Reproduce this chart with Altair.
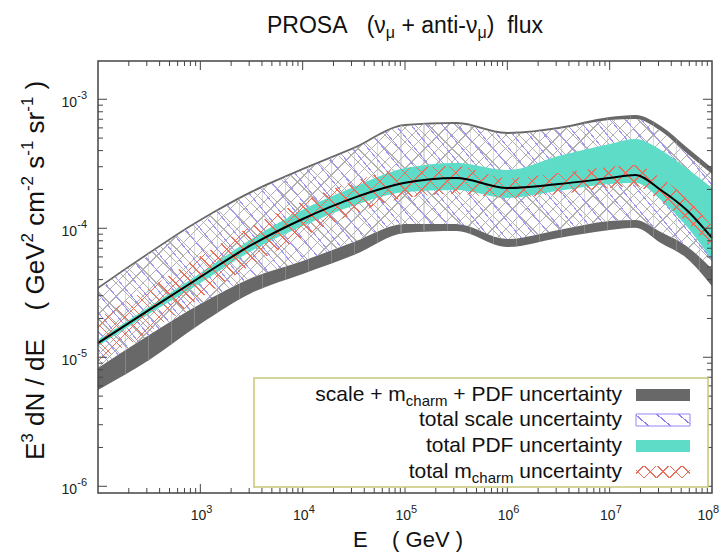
import math
import altair as alt
import pandas as pd

FONT = "Liberation Sans"

# ---------------- data ----------------
E = [1e2, 3.16e2, 1e3, 3.16e3, 1e4, 3.16e4, 1e5, 3.16e5, 1e6, 3.16e6, 1e7, 1.78e7, 3.16e7, 5.62e7, 1e8]
central = [1.29e-5, 2.33e-5, 4.19e-5, 7.42e-5, 1.18e-4, 1.72e-4, 2.25e-4, 2.45e-4, 2.05e-4, 2.20e-4, 2.45e-4, 2.59e-4, 1.98e-4, 1.39e-4, 8.41e-5]
total_hi = [3.51e-5, 6.55e-5, 1.18e-4, 1.95e-4, 2.93e-4, 4.27e-4, 6.43e-4, 6.67e-4, 5.58e-4, 6.10e-4, 7.29e-4, 7.56e-4, 6.21e-4, 4.27e-4, 2.93e-4]
total_lo = [5.58e-6, 9.53e-6, 1.81e-5, 3.15e-5, 4.42e-5, 6.21e-5, 9.20e-5, 9.53e-5, 7.16e-5, 8.41e-5, 9.70e-5, 1.01e-4, 7.69e-5, 5.89e-5, 3.57e-5]
scale_hi = [3.38e-5, 6.32e-5, 1.14e-4, 1.88e-4, 2.83e-4, 4.12e-4, 6.21e-4, 6.43e-4, 5.38e-4, 5.89e-4, 6.91e-4, 7.04e-4, 5.68e-4, 3.84e-4, 2.64e-4]
scale_lo = [8.26e-6, 1.49e-5, 2.59e-5, 4.12e-5, 5.58e-5, 7.83e-5, 1.08e-4, 1.08e-4, 8.26e-5, 9.70e-5, 1.14e-4, 1.16e-4, 9.36e-5, 7.29e-5, 4.84e-5]
pdf_hi = [1.36e-5, 2.46e-5, 4.50e-5, 8.26e-5, 1.39e-4, 2.09e-4, 2.93e-4, 3.21e-4, 2.83e-4, 3.64e-4, 4.50e-4, 4.92e-4, 4.05e-4, 2.93e-4, 2.05e-4]
pdf_lo = [1.22e-5, 2.17e-5, 3.77e-5, 6.67e-5, 1.04e-4, 1.50e-4, 1.91e-4, 1.98e-4, 1.72e-4, 1.95e-4, 2.20e-4, 2.25e-4, 1.66e-4, 1.04e-4, 5.68e-5]
charm_hi = [2.02e-5, 3.44e-5, 6.10e-5, 1.04e-4, 1.62e-4, 2.30e-4, 2.93e-4, 3.04e-4, 2.45e-4, 2.68e-4, 2.99e-4, 3.09e-4, 2.45e-4, 1.72e-4, 1.04e-4]
charm_lo = [9.20e-6, 1.57e-5, 2.88e-5, 5.19e-5, 8.50e-5, 1.29e-4, 1.72e-4, 1.84e-4, 1.72e-4, 1.84e-4, 2.05e-4, 2.13e-4, 1.60e-4, 1.12e-4, 6.79e-5]

x_tick_values = [1e3, 1e4, 1e5, 1e6, 1e7, 1e8]
x_tick_exp = ["3", "4", "5", "6", "7", "8"]
y_tick_values = [1e-6, 1e-5, 1e-4, 1e-3]
y_tick_exp = ["-6", "-5", "-4", "-3"]

legend_labels = ["scale + m", "charm", "+ PDF uncertainty",
                 "total scale uncertainty", "total PDF uncertainty",
                 "total m", "charm", "uncertainty"]

df = pd.DataFrame(dict(E=E, central=central, total_hi=total_hi, total_lo=total_lo,
                       scale_hi=scale_hi, scale_lo=scale_lo, pdf_hi=pdf_hi, pdf_lo=pdf_lo,
                       charm_hi=charm_hi, charm_lo=charm_lo))

W, H = 614, 432
xs = alt.Scale(type="log", domain=[100, 1e8], nice=False)
ys = alt.Scale(type="log", domain=[8.87e-7, 1.98e-3], nice=False)


def hatch(color, angle, period, lw, bw, bh, bg="rgba(255,255,255,0)"):
    """linear gradient with hard stops -> stripes of a given screen angle"""
    th = math.radians(angle)
    nx, ny = -math.sin(th), math.cos(th)
    s = [nx * x + ny * y for x in (0, bw) for y in (0, bh)]
    smin, smax = min(s), max(s)
    Q = (nx * bw) ** 2 + (ny * bh) ** 2
    k = (smax - smin) / Q
    x1, y1 = smin * nx * bw / Q, smin * ny * bh / Q
    x2, y2 = x1 + k * nx * bw, y1 + k * ny * bh
    L = smax - smin
    n = int(L // period)
    w = lw / L
    stops = [{"offset": 0, "color": bg}]
    for i in range(n):
        a = round((i + 0.5) * period / L, 5)
        b = round(min(a + w, 1), 5)
        stops += [{"offset": a, "color": bg}, {"offset": a, "color": color},
                  {"offset": b, "color": color}, {"offset": b, "color": bg}]
    stops.append({"offset": 1, "color": bg})
    return {"gradient": "linear", "x1": round(x1, 5), "y1": round(y1, 5),
            "x2": round(x2, 5), "y2": round(y2, 5), "stops": stops}


base = alt.Chart(df)


def band(hi, lo):
    return dict(
        x=alt.X("E:Q", scale=xs, axis=None),
        y=alt.Y(hi + ":Q", scale=ys, axis=None),
        y2=alt.Y2(lo + ":Q"),
    )


def area(fill, hi, lo):
    return base.mark_area(fill=fill, interpolate="monotone", strokeWidth=0).encode(**band(hi, lo))


layers = []
# total band (dark grey) with seams
layers.append(area("#686868", "total_hi", "total_lo"))
layers.append(area(hatch("#858585", 90, 23, 1.0, 614, 275), "total_hi", "total_lo"))
# scale band: white + grey cross hatch + blue hatch
layers.append(area("white", "scale_hi", "scale_lo"))
layers.append(area(hatch("#dadada", 90, 23, 1.0, 614, 249), "scale_hi", "scale_lo"))
layers.append(area(hatch("#b0b0b0", 45, 9.5, 0.9, 614, 249), "scale_hi", "scale_lo"))
layers.append(area(hatch("#b0b0b0", -45, 9.5, 0.9, 614, 249), "scale_hi", "scale_lo"))
layers.append(area(hatch("#a096f4", 50, 12, 1.0, 614, 249), "scale_hi", "scale_lo"))
# PDF band
layers.append(area("#5fdcc8", "pdf_hi", "pdf_lo"))
# m_charm band (red cross hatch)
layers.append(area(hatch("#e8705e", 45, 12, 1.2, 614, 197), "charm_hi", "charm_lo"))
layers.append(area(hatch("#e8705e", -45, 12, 1.2, 614, 197), "charm_hi", "charm_lo"))
# central line
layers.append(base.mark_line(color="#000000", strokeWidth=2, interpolate="monotone").encode(
    x=alt.X("E:Q", scale=xs, axis=None), y=alt.Y("central:Q", scale=ys, axis=None)))

# ---------------- inward ticks on all four sides ----------------
xmaj = pd.DataFrame({"v": [1e3, 1e4, 1e5, 1e6, 1e7]})
xmin_ = pd.DataFrame({"v": [k * 10.0 ** n for n in range(2, 8) for k in range(2, 10)]})
ymaj = pd.DataFrame({"v": [1e-6, 1e-5, 1e-4, 1e-3]})
ymin_ = pd.DataFrame({"v": [k * 10.0 ** n for n in range(-6, -3) for k in range(2, 10)]})
TC = "#444444"
for d, ln in ((xmaj, 9), (xmin_, 5)):
    layers.append(alt.Chart(d).mark_rule(color=TC, strokeWidth=1).encode(
        x=alt.X("v:Q", scale=xs, axis=None), y=alt.value(H), y2=alt.value(H - ln)))
    layers.append(alt.Chart(d).mark_rule(color=TC, strokeWidth=1).encode(
        x=alt.X("v:Q", scale=xs, axis=None), y=alt.value(0), y2=alt.value(ln)))
for d, ln in ((ymaj, 9), (ymin_, 5)):
    layers.append(alt.Chart(d).mark_rule(color=TC, strokeWidth=1).encode(
        y=alt.Y("v:Q", scale=ys, axis=None), x=alt.value(0), x2=alt.value(ln)))
    layers.append(alt.Chart(d).mark_rule(color=TC, strokeWidth=1).encode(
        y=alt.Y("v:Q", scale=ys, axis=None), x=alt.value(W), x2=alt.value(W - ln)))

# tick labels "10" + raised exponent (through the scales)
xl = pd.DataFrame({"v": x_tick_values, "e": x_tick_exp, "b": ["10"] * len(x_tick_values)})
xl["dx"] = [6, 6, 6, 6, 6, 1]   # last label nudged so it stays inside the page
yl = pd.DataFrame({"v": y_tick_values, "e": y_tick_exp, "b": ["10"] * len(y_tick_values)})
LC = "#222222"
for i in range(len(xl)):
    row = xl.iloc[[i]]
    dx = int(row["dx"].iloc[0])
    layers.append(alt.Chart(row).mark_text(font=FONT, fontSize=14, color=LC, baseline="middle", align="right", dx=dx).encode(
        x=alt.X("v:Q", scale=xs, axis=None), y=alt.value(H + 23), text="b:N"))
    layers.append(alt.Chart(row).mark_text(font=FONT, fontSize=11, color=LC, baseline="middle", align="left", dx=dx).encode(
        x=alt.X("v:Q", scale=xs, axis=None), y=alt.value(H + 17), text="e:N"))
layers.append(alt.Chart(yl).mark_text(font=FONT, fontSize=14, color=LC, baseline="middle", align="right", dy=4).encode(
    y=alt.Y("v:Q", scale=ys, axis=None), x=alt.value(-21), text="b:N"))
layers.append(alt.Chart(yl).mark_text(font=FONT, fontSize=11, color=LC, baseline="middle", align="right", dy=-3).encode(
    y=alt.Y("v:Q", scale=ys, axis=None), x=alt.value(-11), text="e:N"))

one = alt.Chart(pd.DataFrame({"a": [0]}))

# frame
layers.append(one.mark_rect(fillOpacity=0, stroke="#444444", strokeWidth=1.5).encode(
    x=alt.value(0), x2=alt.value(W), y=alt.value(0), y2=alt.value(H)))

# ---------------- legend ----------------
layers.append(one.mark_rect(fill="white", stroke="#c8c878", strokeWidth=1.5).encode(
    x=alt.value(156), x2=alt.value(610), y=alt.value(317), y2=alt.value(426)))
layers.append(one.mark_rect(fill="#686868").encode(
    x=alt.value(538), x2=alt.value(592), y=alt.value(328), y2=alt.value(340)))
layers.append(one.mark_rect(fill=hatch("#8c80f0", 40, 14, 1.2, 54, 12), stroke="#9488f2", strokeWidth=1).encode(
    x=alt.value(538), x2=alt.value(592), y=alt.value(353), y2=alt.value(365)))
layers.append(one.mark_rect(fill="#5fdcc8").encode(
    x=alt.value(538), x2=alt.value(592), y=alt.value(379), y2=alt.value(391)))
layers.append(one.mark_rect(fill=hatch("#e8705e", 45, 9, 1.2, 54, 12)).encode(
    x=alt.value(538), x2=alt.value(592), y=alt.value(405), y2=alt.value(417)))
layers.append(one.mark_rect(fill=hatch("#e8705e", -45, 9, 1.2, 54, 12)).encode(
    x=alt.value(538), x2=alt.value(592), y=alt.value(405), y2=alt.value(417)))

NB = "\u00a0"


def txt(t, x, y, size, align="left", baseline="middle", angle=0):
    kw = dict(text=t, align=align, baseline=baseline, fontSize=size, font=FONT, color="#111111")
    if angle:
        kw["angle"] = angle
    return one.mark_text(**kw).encode(x=alt.value(x), y=alt.value(y))


LS = 21
layers += [
    txt(legend_labels[0], 307.8, 334, LS, "right"),
    txt(legend_labels[1], 307.8, 340, 15, "left"),
    txt(legend_labels[2], 524, 334, LS, "right"),
    txt(legend_labels[3], 524, 359, LS, "right"),
    txt(legend_labels[4], 524, 385, LS, "right"),
    txt(legend_labels[5], 373.8, 411, LS, "right"),
    txt(legend_labels[6], 373.8, 417, 15, "left"),
    txt(legend_labels[7], 524, 411, LS, "right"),
]

# ---------------- titles ----------------
T = 23
layers += [
    txt("PROSA" + NB * 3 + "(ν", 169, -28, T, "left", "alphabetic"),
    txt("μ", 287.8, -23, 16, "left", "alphabetic"),
    txt("+" + NB + "anti-ν", 303.4, -28, T, "left", "alphabetic"),
    txt("μ", 379.5, -23, 16, "left", "alphabetic"),
    txt(")" + NB * 2 + "flux", 388.7, -28, T, "left", "alphabetic"),
    txt("E" + NB * 4 + "(" + NB + "GeV" + NB + ")", 310, 479, 22, "center", "middle"),
]

# rotated y title, built from pieces (main 26px, superscripts 17px), reading bottom -> top
YB, YS = -53.7, -65.4   # baselines of main text and of superscripts
ytitle = [
    ("E", 399.0, YB, 26),
    ("3", 381.66, YS, 17),
    ("dN / dE" + NB * 4 + "(" + NB + "GeV", 364.98, YB, 26),
    ("2", 181.45, YS, 17),
    ("cm", 164.77, YB, 26),
    ("-2", 130.11, YS, 17),
    ("s", 107.77, YB, 26),
    ("-1", 94.77, YS, 17),
    ("sr", 72.43, YB, 26),
    ("-1", 50.77, YS, 17),
    (")", 28.43, YB, 26),
]
for t, y, x, fs in ytitle:
    layers.append(txt(t, x, y, fs, "left", "alphabetic", 270))

chart = alt.layer(*layers).properties(
    width=W, height=H,
    padding={"left": 98, "top": 61, "right": 10, "bottom": 63},
    autosize=alt.AutoSizeParams(type="none"),
).configure_view(stroke=None)

chart.save("out.html", embed_options={"renderer": "svg", "actions": False})
